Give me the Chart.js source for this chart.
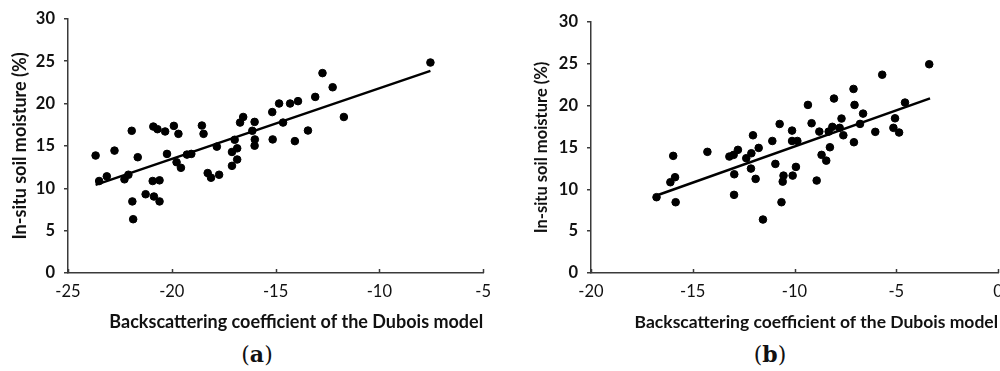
<!DOCTYPE html>
<html>
<head>
<meta charset="utf-8">
<script src="https://cdn.jsdelivr.net/npm/chart.js@4.4.1/dist/chart.umd.min.js"></script>
<style>
  body { margin: 0; width: 1000px; height: 371px; overflow: hidden; position: relative; background: #fff; }
  .box { position: absolute; top: 0; height: 340px; }
  .cap { position: absolute; top: 341px; width: 60px; margin-left: -30px; text-align: center;
         font-family: "DejaVu Serif", "Liberation Serif", serif; font-size: 22px; color: #111; }
</style>
</head>
<body>
<div class="box" style="left:0; width:500px;"><canvas id="chartA"></canvas></div>
<div class="box" style="left:500px; width:512px;"><canvas id="chartB"></canvas></div>
<div class="cap" style="left:257px;">(<b>a</b>)</div>
<div class="cap" style="left:770px;">(<b>b</b>)</div>

<script>
// (a) backscattering coefficient vs in-situ soil moisture
const aX = [-23.67, -23.5, -23.13, -22.76, -22.28, -22.09, -21.93, -21.9, -21.86, -21.64,
  -21.26, -20.92, -20.86, -20.59, -20.59, -20.89, -20.69, -20.32, -20.23, -19.9,
  -19.68, -19.77, -19.56, -19.27, -19.06, -18.55, -18.47, -18.27, -18.11, -17.72,
  -17.83, -17.1, -16.85, -16.85, -17.1, -16.97, -16.71, -16.56, -16.12, -16.01,
  -16.0, -16.01, -15.16, -15.14, -14.83, -14.64, -14.3, -13.92, -14.07, -13.44,
  -13.09, -12.74, -12.25, -11.71, -7.54];
const aY = [13.87, 10.86, 11.41, 14.45, 11.06, 11.6, 16.79, 8.45, 6.35, 13.67,
  9.3, 10.86, 9.03, 8.45, 10.94, 17.29, 16.98, 16.71, 14.06, 17.37,
  16.43, 13.08, 12.42, 13.98, 14.06, 17.41, 16.43, 11.8, 11.25, 11.6,
  14.92, 14.29, 14.72, 13.4, 12.65, 15.73, 17.76, 18.42, 16.79, 17.84,
  15.77, 15.03, 19.0, 15.77, 20.01, 17.76, 20.01, 20.29, 15.57, 16.82,
  20.79, 23.6, 21.93, 18.42, 24.85];
const aFitX = [-23.67, -7.54];
const aFitY = [10.4, 23.87];

// (b)
const bX = [-16.78, -16.1, -15.87, -15.96, -15.84, -14.28, -13.2, -12.99, -12.78, -12.96,
  -12.97, -12.37, -12.12, -12.04, -12.14, -11.91, -11.76, -11.55, -11.09, -10.94,
  -10.73, -10.64, -10.58, -10.54, -10.12, -10.12, -9.86, -10.09, -9.93, -9.34,
  -9.16, -8.91, -8.78, -8.67, -8.44, -8.32, -8.26, -8.14, -8.06, -7.78,
  -7.69, -7.6, -7.1, -7.05, -7.08, -6.78, -6.63, -6.03, -5.69, -5.06,
  -5.14, -4.86, -4.57, -3.38];
const bY = [9.06, 10.85, 11.45, 14.0, 8.46, 14.48, 13.92, 14.12, 14.72, 11.8,
  9.34, 13.72, 14.31, 16.46, 12.48, 11.25, 14.95, 6.39, 15.78, 13.04,
  17.81, 8.46, 10.92, 11.64, 17.02, 15.78, 15.78, 11.64, 12.68, 20.09,
  17.9, 11.05, 16.9, 14.12, 13.43, 16.9, 15.03, 17.47, 20.85, 17.35,
  18.46, 16.46, 22.0, 20.09, 15.63, 17.82, 19.05, 16.87, 23.7, 18.49,
  17.35, 16.79, 20.37, 24.95];
const bFitX = [-16.78, -3.34];
const bFitY = [9.26, 20.88];

const xTitle = "Backscattering coefficient of the Dubois model";
const yTitle = "In-situ soil moisture (%)";
const FONT = "Lato, 'Open Sans', sans-serif";
const AXIS = "#3a3a3a";

const toPoints = (xs, ys) => xs.map((x, i) => ({ x, y: ys[i] }));

// small tick marks pointing up into the plot on the x axis
const insideTicks = {
  id: "insideTicks",
  afterDraw(chart) {
    const { ctx, scales } = chart;
    const sx = scales.x;
    const bottom = chart.chartArea.bottom;
    ctx.save();
    ctx.strokeStyle = AXIS;
    ctx.lineWidth = 1.5;
    sx.ticks.forEach((t) => {
      const px = Math.round(sx.getPixelForValue(t.value)) + 0.5;
      ctx.beginPath();
      ctx.moveTo(px, bottom);
      ctx.lineTo(px, bottom - 4);
      ctx.stroke();
    });
    ctx.restore();
  },
};

function makeChart(id, opt) {
  return new Chart(document.getElementById(id), {
    type: "scatter",
    data: {
      datasets: [
        {
          data: toPoints(opt.xs, opt.ys),
          backgroundColor: "#000",
          borderColor: "#000",
          pointRadius: 3.8,
          pointHoverRadius: 3.8,
        },
        {
          type: "line",
          data: toPoints(opt.fitX, opt.fitY),
          borderColor: "#000",
          borderWidth: 2.5,
          pointRadius: 0,
          fill: false,
        },
      ],
    },
    options: {
      responsive: true,
      maintainAspectRatio: false,
      animation: false,
      layout: { padding: opt.padding },
      plugins: { legend: { display: false }, tooltip: { enabled: false } },
      scales: {
        x: {
          type: "linear",
          min: opt.xMin,
          max: opt.xMax,
          afterFit: (s) => { s.height = opt.xHeight; },
          ticks: { stepSize: 5, padding: 9, color: "#111", font: { family: FONT, size: 16.5 } },
          grid: { drawOnChartArea: false, drawTicks: false },
          border: { color: AXIS, width: 1.5 },
          title: {
            display: true,
            text: xTitle,
            align: "end",
            color: "#111",
            padding: { top: 0, bottom: 7 },
            font: { family: FONT, size: opt.titleSize, weight: "bold" },
          },
        },
        y: {
          min: 0,
          max: 30,
          afterFit: (s) => { s.width = opt.yWidth; },
          ticks: { stepSize: 5, padding: 9, color: "#111", font: { family: FONT, size: 16.5, weight: "bold" } },
          grid: { drawOnChartArea: false, tickLength: 4, color: AXIS, lineWidth: 1.5 },
          border: { color: AXIS, width: 1.5 },
          title: {
            display: true,
            text: yTitle,
            color: "#111",
            padding: { top: opt.yTitlePad, bottom: 0 },
            font: { family: FONT, size: opt.yTitleSize, weight: "bold" },
          },
        },
      },
    },
    plugins: [insideTicks],
  });
}

makeChart("chartA", {
  xs: aX, ys: aY, fitX: aFitX, fitY: aFitY,
  xMin: -25, xMax: -5,
  padding: { top: 17, right: 10, bottom: 0, left: 0 },
  xHeight: 67, yWidth: 68, yTitlePad: 9,
  titleSize: 18, yTitleSize: 18,
});

makeChart("chartB", {
  xs: bX, ys: bY, fitX: bFitX, fitY: bFitY,
  xMin: -20, xMax: 0,
  padding: { top: 22, right: 14, bottom: 0, left: 0 },
  xHeight: 67, yWidth: 91, yTitlePad: 32,
  titleSize: 17.5, yTitleSize: 16.5,
});
</script>
</body>
</html>
